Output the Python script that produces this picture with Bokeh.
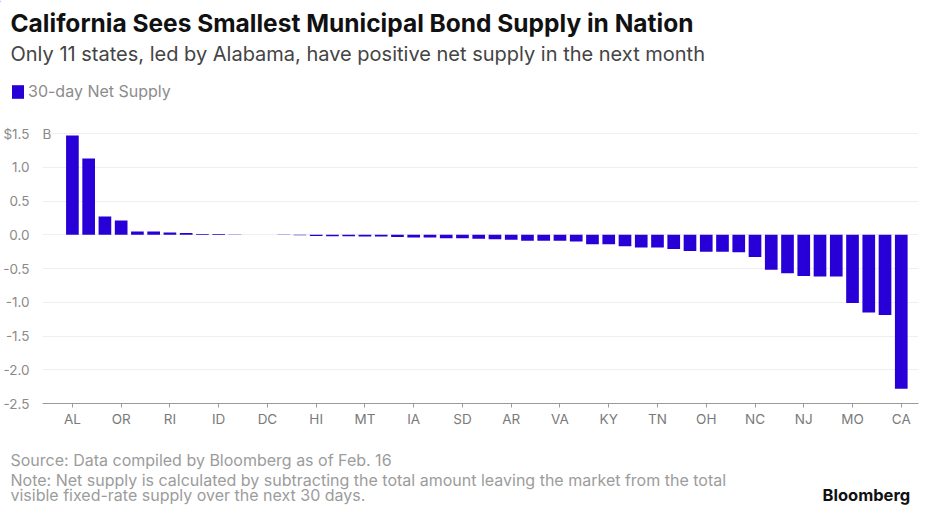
from bokeh.plotting import figure
from bokeh.layouts import column
from bokeh.models import Range1d, FixedTicker, Legend, LegendItem, ColumnDataSource
from bokeh.core.properties import value
from bokeh.embed import file_html
from bokeh.resources import INLINE

# ---- data (30-day net supply, $ billions, sorted by state) ----
net_supply = [1.47, 1.13, 0.27, 0.21, 0.05, 0.05, 0.035, 0.025, 0.01, 0.01,
              0.003, 0.0, 0.0, -0.005, -0.006, -0.02, -0.022, -0.024, -0.025, -0.025,
              -0.035, -0.04, -0.04, -0.05, -0.05, -0.06, -0.065, -0.075, -0.09, -0.09,
              -0.09, -0.1, -0.14, -0.14, -0.17, -0.19, -0.19, -0.21, -0.24, -0.25,
              -0.25, -0.26, -0.33, -0.52, -0.57, -0.61, -0.62, -0.62, -1.01, -1.15,
              -1.19, -2.28]
tick_labels = ["AL", "OR", "RI", "ID", "DC", "HI", "MT", "IA", "SD", "AR",
               "VA", "KY", "TN", "OH", "NC", "NJ", "MO", "CA"]
tick_step = 3
y_ticks = [1.5, 1.0, 0.5, 0.0, -0.5, -1.0, -1.5, -2.0, -2.5]
y_tick_labels = ["$1.5", "1.0", "0.5", "0.0", "-0.5", "-1.0", "-1.5", "-2.0", "-2.5"]

title = "California Sees Smallest Municipal Bond Supply in Nation"
subtitle = "Only 11 states, led by Alabama, have positive net supply in the next month"
legend_label = "30-day Net Supply"
source_text = "Source: Data compiled by Bloomberg as of Feb. 16"
note_1 = "Note: Net supply is calculated by subtracting the total amount leaving the market from the total"
note_2 = "visible fixed-rate supply over the next 30 days."
brand = "Bloomberg"

# ---- style ----
W = 925
BLUE = "#2800d7"
FONT = "Inter"
GREY_AX = "#8a8a8a"
GREY_FOOT = "#9c9c9c"


def blank(h):
    f = figure(width=W, height=h, output_backend="svg", toolbar_location=None,
               x_axis_type=None, y_axis_type=None, frame_align=False,
               x_range=Range1d(0, W), y_range=Range1d(h, 0),
               min_border=0, min_border_left=0, min_border_right=0,
               min_border_top=0, min_border_bottom=0)
    f.grid.visible = False
    f.outline_line_color = None
    f.background_fill_color = "white"
    f.border_fill_color = "white"
    return f


def txt(f, x, y, s, size, color, bold=False):
    f.text(x=[x], y=[y], text=[s], text_font=value(FONT), text_font_size=size,
           text_color=color, text_font_style="bold" if bold else "normal",
           text_baseline="alphabetic", text_align="left")


# ---- header ----
HEAD_H = 112
head = blank(HEAD_H)
txt(head, 10, 22, title, "24.5px", "#111111", bold=True)
txt(head, 10, 53, subtitle, "20px", "#444444")
# legend swatch renderer (kept outside the visible range; only its legend glyph shows)
swatch = head.vbar(x=[-W], top=net_supply[:1], width=1, fill_color=BLUE, line_color=None)
head.add_layout(Legend(items=[LegendItem(label=legend_label, renderers=[swatch])],
                       location=(10, 11), orientation="horizontal",
                       glyph_width=15, glyph_height=17, label_height=17, label_standoff=3,
                       padding=0, margin=0, spacing=0, border_line_color=None,
                       background_fill_alpha=0, label_text_font=FONT,
                       label_text_font_size="16px", label_text_color="#8c8c8c"))

# ---- main chart ----
p = figure(width=W, height=328, output_backend="svg", toolbar_location=None,
           frame_align=False,
           x_range=Range1d(-1.84, 52.06), y_range=Range1d(-2.5, 1.589),
           min_border_left=40, min_border_right=7, min_border_top=15, min_border_bottom=37)
p.outline_line_color = None
p.background_fill_color = "white"
p.border_fill_color = "white"

src = ColumnDataSource(dict(x=list(range(len(net_supply))), v=net_supply))
p.vbar(x="x", top="v", bottom=0, width=0.78, source=src, fill_color=BLUE, line_color=None)

xa = p.xaxis[0]
xa.ticker = FixedTicker(ticks=[i * tick_step for i in range(len(tick_labels))])
xa.major_label_overrides = {i * tick_step: lab for i, lab in enumerate(tick_labels)}
xa.axis_line_color = "#9a9a9a"
xa.major_tick_line_color = "#9a9a9a"
xa.major_tick_out = 4
xa.major_tick_in = 0
xa.minor_tick_line_color = None
xa.major_label_standoff = 3
xa.major_label_text_font = FONT
xa.major_label_text_font_size = "13.5px"
xa.major_label_text_color = "#7a7a7a"

ya = p.yaxis[0]
ya.ticker = FixedTicker(ticks=y_ticks)
ya.major_label_overrides = {t: lab for t, lab in zip(y_ticks, y_tick_labels)}
ya.axis_line_color = None
ya.major_tick_line_color = None
ya.minor_tick_line_color = None
ya.major_label_standoff = 7
ya.major_label_text_font = FONT
ya.major_label_text_font_size = "13.5px"
ya.major_label_text_color = GREY_AX

p.xgrid.visible = False
p.ygrid.ticker = FixedTicker(ticks=y_ticks)
p.ygrid.grid_line_color = "#efefef"

# "B" unit suffix next to the top tick label
p.text(x=[p.x_range.start], y=[y_ticks[0]], text=["B"], text_font=value(FONT),
       text_font_size="13.5px", text_color=GREY_AX, text_baseline="middle",
       text_align="left", x_offset=0)

# ---- footer ----
FOOT_H = 66
foot = blank(FOOT_H)
txt(foot, 10, 19.5, source_text, "16px", GREY_FOOT)
txt(foot, 10, 39.5, note_1, "16px", GREY_FOOT)
txt(foot, 10, 54.5, note_2, "16px", GREY_FOOT)
txt(foot, 822, 54.5, brand, "16.5px", "#111111", bold=True)

layout = column(head, p, foot, spacing=0)
open("out.html", "w").write(file_html(layout, INLINE))
